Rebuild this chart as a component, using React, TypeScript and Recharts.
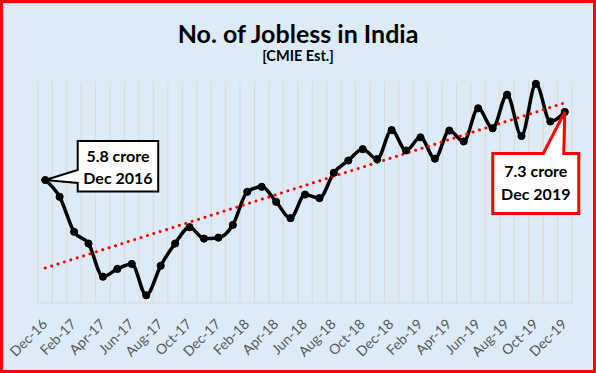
import React from 'react';
import {
  LineChart,
  Line,
  XAxis,
  YAxis,
  CartesianGrid,
  ReferenceLine,
  ReferenceDot,
} from 'recharts';

// months Dec-16 .. Dec-19
const months = [
  'Dec-16', 'Jan-17', 'Feb-17', 'Mar-17', 'Apr-17', 'May-17', 'Jun-17', 'Jul-17', 'Aug-17',
  'Sep-17', 'Oct-17', 'Nov-17', 'Dec-17', 'Jan-18', 'Feb-18', 'Mar-18', 'Apr-18', 'May-18',
  'Jun-18', 'Jul-18', 'Aug-18', 'Sep-18', 'Oct-18', 'Nov-18', 'Dec-18', 'Jan-19', 'Feb-19',
  'Mar-19', 'Apr-19', 'May-19', 'Jun-19', 'Jul-19', 'Aug-19', 'Sep-19', 'Oct-19', 'Nov-19',
  'Dec-19',
];

// jobless, crore
const jobless = [
  5.8, 5.43, 4.66, 4.4, 3.67, 3.84, 3.95, 3.26, 3.91,
  4.4, 4.76, 4.51, 4.53, 4.81, 5.54, 5.65, 5.32, 4.96,
  5.48, 5.4, 5.96, 6.23, 6.48, 6.26, 6.9, 6.45, 6.74,
  6.27, 6.89, 6.65, 7.38, 6.94, 7.68, 6.77, 7.92, 7.09,
  7.3,
];

// dotted trend line ends
const trendStart = 3.86;
const trendEnd = 7.5;

const data = months.map((m, i) => ({ month: m, value: jobless[i] }));

const FONT = 'Lato, "Open Sans", sans-serif';
const PLOT_W = 534;
const HALF_BAND = PLOT_W / months.length / 2;

const MonthTick = (props: any) => {
  const { x, y, payload } = props;
  return (
    <g transform={`translate(${x + 3},${y + 22}) rotate(-45)`}>
      <text textAnchor="end" fill="#595959" fontSize={14} fontFamily={FONT}>
        {payload.value}
      </text>
    </g>
  );
};

const StartCallout = (props: any) => {
  const { cx, cy } = props;
  const bx = cx + 32.5;
  const by = cy - 39;
  const w = 80.5;
  const h = 50.5;
  const path = `M${cx},${cy} L${bx},${cy - 10} L${bx},${by} L${bx + w},${by} L${bx + w},${by + h} L${bx},${by + h} L${bx},${cy + 3} Z`;
  return (
    <g>
      <path d={path} fill="#fff" stroke="#000" strokeWidth={2} strokeLinejoin="miter" />
      <text x={bx + w / 2} y={cy - 18.5} textAnchor="middle" fontFamily={FONT} fontWeight={700} fontSize={16} fill="#000">
        5.8 crore
      </text>
      <text x={bx + w / 2} y={cy + 3.5} textAnchor="middle" fontFamily={FONT} fontWeight={700} fontSize={16} fill="#000">
        Dec 2016
      </text>
    </g>
  );
};

const EndCallout = (props: any) => {
  const { cx, cy } = props;
  const bx = cx - 72;
  const by = cy + 41.5;
  const w = 86;
  const h = 60;
  const path = `M${cx},${cy} L${cx - 1},${by} L${bx + w},${by} L${bx + w},${by + h} L${bx},${by + h} L${bx},${by} L${cx - 21.5},${by} Z`;
  return (
    <g>
      <path d={path} fill="#fff" stroke="#ff0000" strokeWidth={3} strokeLinejoin="miter" />
      <text x={bx + w / 2} y={cy + 65.5} textAnchor="middle" fontFamily={FONT} fontWeight={700} fontSize={16} fill="#000">
        7.3 crore
      </text>
      <text x={bx + w / 2} y={cy + 88} textAnchor="middle" fontFamily={FONT} fontWeight={700} fontSize={16} fill="#000">
        Dec 2019
      </text>
    </g>
  );
};

export default function App() {
  return (
    <div
      style={{
        position: 'relative',
        width: 596,
        height: 373,
        boxSizing: 'border-box',
        border: '3px solid #ff0000',
        background: '#DDEBF7',
      }}
    >
      <style>{'body{margin:0}'}</style>
      <svg width={590} height={70} style={{ position: 'absolute', left: 0, top: 0, pointerEvents: 'none' }}>
        <text x={295} y={39.5} textAnchor="middle" fontFamily={FONT} fontWeight={700} fontSize={25} fill="#000">
          No. of Jobless in India
        </text>
        <text x={295} y={57.5} textAnchor="middle" fontFamily={FONT} fontWeight={700} fontSize={14.5} fill="#000">
          [CMIE Est.]
        </text>
      </svg>
      <LineChart
        width={590}
        height={367}
        data={data}
        margin={{ top: 79, right: 21, bottom: 7, left: 35 }}
      >
        <CartesianGrid
          horizontal={false}
          stroke="#D9D9D9"
          verticalCoordinatesGenerator={({ offset }: any) =>
            Array.from({ length: months.length + 1 }, (_, k) => offset.left + (k * offset.width) / months.length)
          }
        />
        <XAxis
          dataKey="month"
          interval={1}
          height={60}
          tickSize={0}
          tickMargin={0}
          tickLine={false}
          axisLine={{ stroke: '#D9D9D9' }}
          tick={<MonthTick />}
          padding={{ left: HALF_BAND, right: HALF_BAND }}
        />
        <YAxis hide domain={[3.09, 7.96]} />
        <Line
          type="monotone"
          dataKey="value"
          stroke="#000"
          strokeWidth={3.5}
          dot={{ r: 3.6, fill: '#000', stroke: '#000', strokeWidth: 1 }}
          activeDot={false}
          isAnimationActive={false}
        />
        <ReferenceLine
          segment={[
            { x: months[0], y: trendStart },
            { x: months[months.length - 1], y: trendEnd },
          ]}
          stroke="#ff0000"
          strokeWidth={3}
          strokeDasharray="0.1 6.6"
          strokeLinecap="round"
        />
        <ReferenceDot x={months[0]} y={jobless[0]} shape={<StartCallout />} ifOverflow="visible" />
        <ReferenceDot
          x={months[months.length - 1]}
          y={jobless[jobless.length - 1]}
          shape={<EndCallout />}
          ifOverflow="visible"
        />
      </LineChart>
    </div>
  );
}
